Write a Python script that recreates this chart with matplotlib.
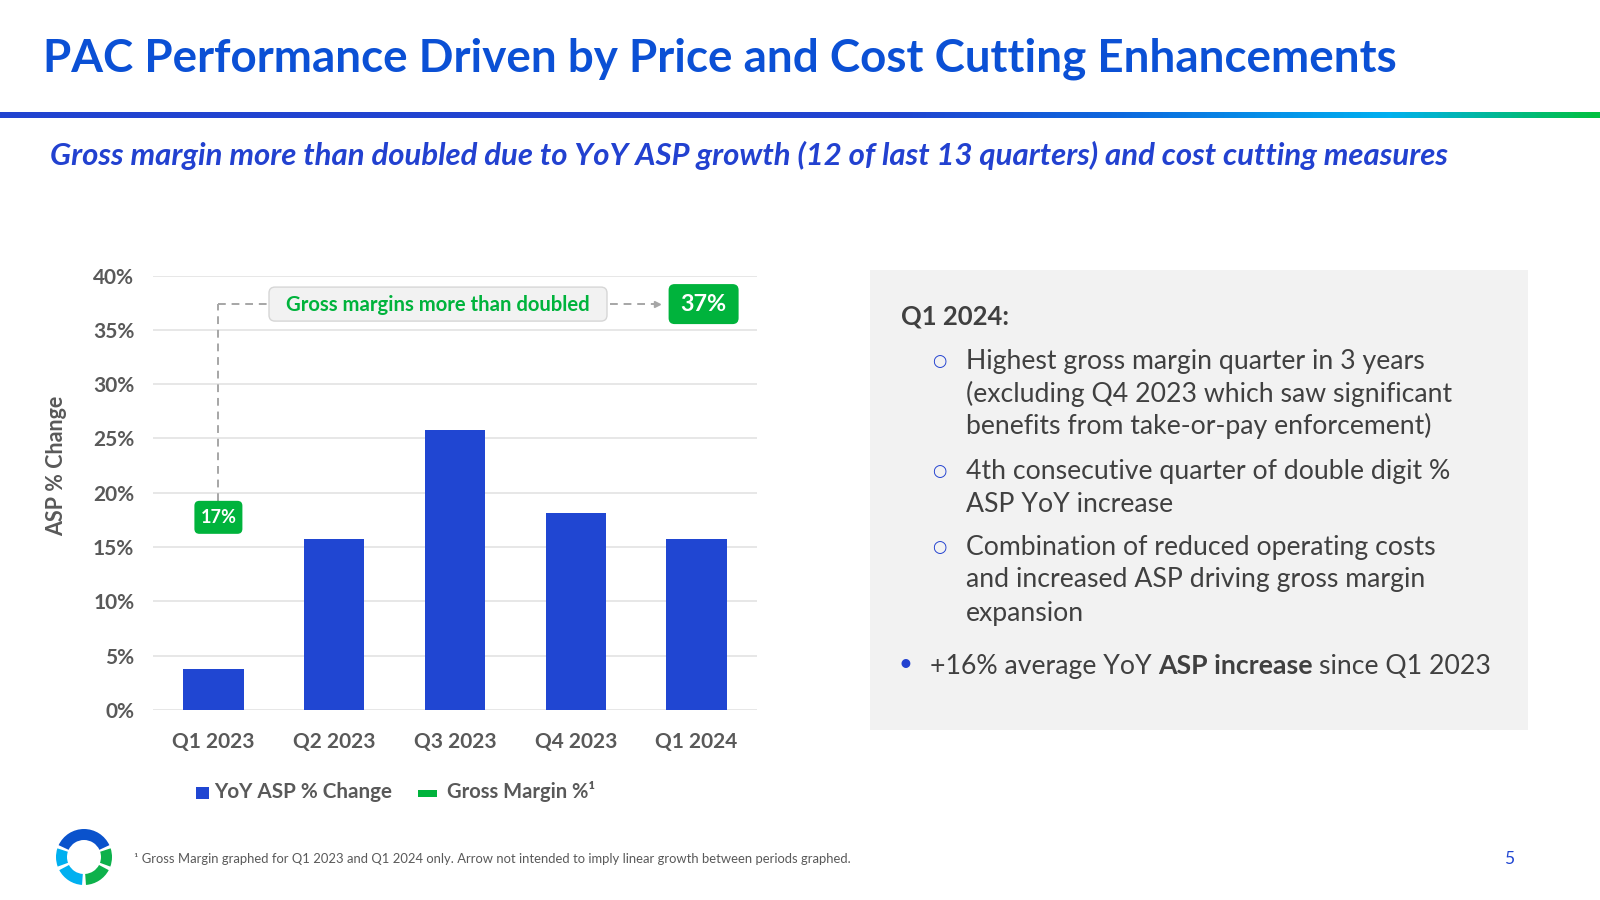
import numpy as np
import matplotlib
matplotlib.use('Agg')
import matplotlib.pyplot as plt
from matplotlib.patches import FancyBboxPatch, Wedge, Rectangle
from matplotlib.colors import LinearSegmentedColormap

plt.rcParams['font.family'] = ['Lato', 'DejaVu Sans']

# ---------------- data ----------------
quarters = ['Q1 2023', 'Q2 2023', 'Q3 2023', 'Q4 2023', 'Q1 2024']
asp_change = [3.8, 15.7, 25.8, 18.1, 15.7]          # YoY ASP % change
gm_quarters = ['Q1 2023', 'Q1 2024']
gross_margin = [17, 37]                              # Gross margin %
yticks = [0, 5, 10, 15, 20, 25, 30, 35, 40]

title = 'PAC Performance Driven by Price and Cost Cutting Enhancements'
subtitle = ('Gross margin more than doubled due to YoY ASP growth '
            '(12 of last 13 quarters) and cost cutting measures')
panel_head = 'Q1 2024:'
sub_bullets = [
    ['Highest gross margin quarter in 3 years',
     '(excluding Q4 2023 which saw significant',
     'benefits from take-or-pay enforcement)'],
    ['4th consecutive quarter of double digit %',
     'ASP YoY increase'],
    ['Combination of reduced operating costs',
     'and increased ASP driving gross margin',
     'expansion'],
]
main_bullet = ['+16% average YoY', 'ASP increase', 'since Q1 2023']
main_bullet_bold = [False, True, False]
footnote = ('\u00b9 Gross Margin graphed for Q1 2023 and Q1 2024 only. '
            'Arrow not intended to imply linear growth between periods graphed.')
callout = 'Gross margins more than doubled'
legend_labels = ['YoY ASP % Change', 'Gross Margin %\u00b9']

# ---------------- style ----------------
BLUE_BAR = '#2046D2'
TITLE_BLUE = '#0B50D5'
SUB_BLUE = '#2241D0'
GREEN = '#00B33C'
GRAY = '#595959'
DARK = '#404040'

W, H = 1600, 900
fig = plt.figure(figsize=(16, 9), dpi=100)
renderer = fig.canvas.get_renderer()


def fit(t, width_px):
    bb = t.get_window_extent(renderer)
    t.set_fontsize(t.get_fontsize() * width_px / bb.width)
    return t.get_fontsize()


# chart axes
ax = fig.add_axes([153 / W, 1 - 710 / H, 604 / W, 434.5 / H], zorder=1)
ax.set_facecolor('none')
x = np.arange(len(quarters))
ax.bar(x, asp_change, width=0.5, color=BLUE_BAR, zorder=3)
ax.set_xlim(-0.5, 4.5)
ax.set_ylim(0, 40)
ax.set_yticks(yticks)
ax.set_yticklabels([f'{v}%' for v in yticks])
ax.set_xticks(x)
ax.set_xticklabels(quarters)
ax.set_axisbelow(True)
ax.grid(axis='y', color='#e3e3e3', lw=1.2, zorder=0)
ax.tick_params(length=0, labelsize=15, labelcolor=GRAY)
ax.tick_params(axis='y', pad=13.5)
ax.tick_params(axis='x', pad=16)
for lbl in ax.get_xticklabels() + ax.get_yticklabels():
    lbl.set_fontweight('bold')
for s in ax.spines.values():
    s.set_visible(False)
ax.set_ylabel('ASP % Change', fontweight='bold', color=GRAY, fontsize=15.5)
ax.yaxis.label.set_va('center')
ax.yaxis.set_label_coords((57 - 153) / 604, (710 - 466) / 434.5)

# overlay in pixel coordinates (y downwards)
ov = fig.add_axes([0, 0, 1, 1], zorder=5)
ov.set_facecolor('none')
ov.axis('off')

# gradient rule
cmap = LinearSegmentedColormap.from_list(
    'rule', [(0, '#2144D0'), (0.56, '#2144D0'), (0.70, '#0D68DE'),
             (0.87, '#00B0F0'), (1.0, '#00C040')])
ov.imshow(np.linspace(0, 1, 600)[None, :], cmap=cmap, aspect='auto',
          extent=[0, W, 118, 112], interpolation='bilinear')
ov.set_xlim(0, W)
ov.set_ylim(H, 0)

# title + subtitle
t = ov.text(43, 71, title, fontsize=38, fontweight='bold', color=TITLE_BLUE,
            ha='left', va='baseline')
fit(t, 1356)
t = ov.text(50, 165, subtitle, fontsize=20, fontweight='bold',
            style='italic', color=SUB_BLUE, ha='left', va='baseline')
fit(t, 1396)


def d2o(xd, yd):
    px, py = ax.transData.transform((xd, yd))
    return px, H - py


def rbox(cx, cy, w, h, fc, ec='none', r=6, lw=1.0):
    p = FancyBboxPatch((cx - w / 2, cy - h / 2), w, h,
                       boxstyle=f'round,pad=0,rounding_size={r}',
                       fc=fc, ec=ec, lw=lw, zorder=6)
    ov.add_patch(p)


# gross margin callouts
gx = [quarters.index(q) for q in gm_quarters]
b1x, b1y = d2o(gx[0], gross_margin[0])
b1x += 5
b1y -= 8
b2x, b2y = d2o(gx[1], gross_margin[1])
b2x += 7
b2y -= 4
rbox(b1x, b1y, 48, 33, GREEN, r=5)
t = ov.text(b1x, b1y, f'{gross_margin[0]}%', color='white', fontweight='bold',
            fontsize=13, ha='center', va='center', zorder=7)
fit(t, 36)
rbox(b2x, b2y, 70, 40, GREEN, r=6)
t = ov.text(b2x, b2y, f'{gross_margin[1]}%', color='white', fontweight='bold',
            fontsize=17, ha='center', va='center', zorder=7)
fit(t, 46)

gb_l, gb_r = 269, 607
rbox((gb_l + gb_r) / 2, b2y, gb_r - gb_l, 34, '#F2F2F2', ec='#D6D6D6', r=6)
t = ov.text((gb_l + gb_r) / 2, b2y + 1, callout, color=GREEN, fontweight='bold',
            fontsize=14, ha='center', va='center', zorder=7)
fit(t, 305)

dash = dict(color='#A6A6A6', lw=1.4, ls=(0, (4, 3)), zorder=5)
ov.plot([b1x, b1x], [b1y - 16.5, b2y], **dash)
ov.plot([b1x, gb_l], [b2y, b2y], **dash)
ov.plot([gb_r + 3, 655], [b2y, b2y], **dash)
ov.plot([657], [b2y], marker='>', ms=5, color='#A6A6A6', zorder=5)

# legend (manual)
ov.add_patch(Rectangle((196, 786.5), 12.5, 12.5, fc=BLUE_BAR, ec='none'))
t = ov.text(214, 792, legend_labels[0], color=GRAY, fontweight='bold',
            fontsize=14.5, ha='left', va='center')
fit(t, 178)
ov.add_patch(Rectangle((418, 789.5), 18.5, 7.5, fc=GREEN, ec='none'))
t = ov.text(447, 792, legend_labels[1], color=GRAY, fontweight='bold',
            fontsize=14.5, ha='left', va='center')
fit(t, 148)

# right panel
ov.add_patch(Rectangle((870, 270), 658, 460, fc='#F2F2F2', ec='none', zorder=1))
t = ov.text(901, 316, panel_head, color=DARK, fontweight='bold', fontsize=18,
            ha='left', va='center')
fit(t, 108)
probe = ov.text(0, -100, sub_bullets[0][1], fontsize=18)
body_fs = fit(probe, 1421 / 0.98 - 966)
probe.remove()

line_ys = [[361, 394, 426], [471, 504], [547, 580, 613]]
for lines, ys in zip(sub_bullets, line_ys):
    ov.text(939, ys[0], '\u25cb', color=SUB_BLUE, fontsize=body_fs * 0.62,
            family='DejaVu Sans', ha='center', va='center')
    for s, yy in zip(lines, ys):
        ov.text(966, yy, s, color=DARK, fontsize=body_fs, ha='left',
                va='center')

# main bullet: runs on a common baseline
ov.text(905, 665, '\u2022', color=SUB_BLUE, fontsize=body_fs * 0.9,
        ha='center', va='center')
space_px = body_fs * 100 / 72 * 0.24
xpos = 930
base_y = 674
for s, b in zip(main_bullet, main_bullet_bold):
    tt = ov.text(xpos, base_y, s, color=DARK, fontsize=body_fs,
                 fontweight='bold' if b else 'normal', ha='left',
                 va='baseline')
    xpos += tt.get_window_extent(renderer).width + space_px

# footnote + page number
t = ov.text(134, 859, footnote, color=GRAY, fontsize=9.5, ha='left',
            va='center')
fit(t, 717)
ov.text(1509, 859, '5', color=BLUE_BAR, fontsize=12.5, ha='center',
        va='center')

# logo
cx, cy, ro, rw = 84, 857, 28, 11
segs = [((25, 155), '#0A52CC'), ((162, 200), '#00B0F0'),
        ((208, 266), '#00B0F0'), ((274, 332), '#0DB14B'),
        ((340, 378), '#0DB14B')]
for (a1, a2), c in segs:
    ov.add_patch(Wedge((cx, cy), ro, -a2, -a1, width=rw, fc=c, ec='none'))

fig.savefig('out.png', dpi=100)
